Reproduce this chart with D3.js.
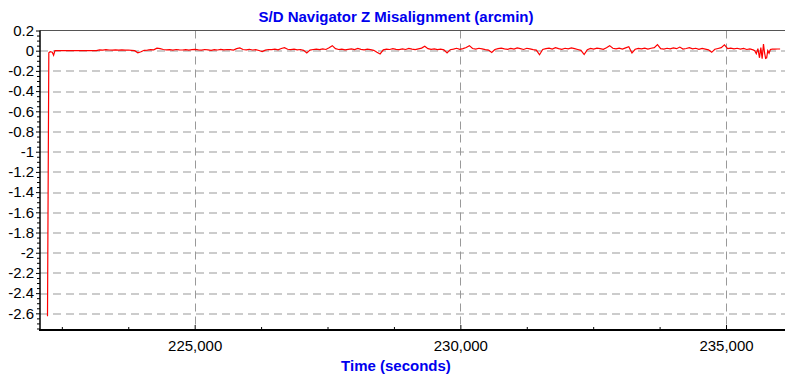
<!DOCTYPE html>
<html>
<head>
<meta charset="utf-8">
<script src="https://cdn.jsdelivr.net/npm/d3@7"></script>
<style>
    body { margin: 0; background: #fff; }
    svg { display: block; font-family: "Liberation Sans", Arial, sans-serif; }
    .grid line { stroke: #999; stroke-dasharray: 8,5; }
    .axis path { display: none; }
    .axis line { stroke: #000; }
    .axis text { font-size: 15px; fill: #000; }
    .ttl { font-size: 15px; font-weight: bold; fill: #0000ee; }
</style>
</head>
<body>
<div id="chart"></div>
<script>
// start-up transient (time, arcmin)
var startTimes  = [222230, 222255, 222280, 222320, 222345, 222370, 223150];
var startValues = [-2.63, -0.02, -0.01, -0.015, -0.045, 0.0, 0.0];

// steady part, one reading every 60 s from 223150
var steadyStart = 223150;
var steadyStep = 60;
var steadyValues = [
    0.005, 0.008, 0.006, 0.01, 0.007, 0.005, 0.009, 0.006, 0.008, 0.005,
    0.007, 0.004, 0.0, -0.02, -0.01, 0.004, 0.006, 0.01, 0.008, 0.025,
    0.02, 0.012, 0.008, 0.01, 0.006, 0.012, 0.009, 0.007, 0.011, 0.005,
    0.01, 0.014, 0.008, 0.006, 0.012, 0.009, 0.004, 0.011, 0.007, 0.013,
    0.008, 0.012, 0.01, 0.006, 0.02, 0.027, 0.012, 0.009, 0.014, 0.007,
    0.011, 0.002, -0.008, 0.006, 0.012, 0.01, 0.015, 0.008, 0.022, 0.03,
    0.014, 0.01, 0.016, 0.008, 0.012, 0.004, -0.022, 0.006, 0.012, 0.015,
    0.01, 0.018, 0.012, 0.03, 0.05, 0.02, 0.012, 0.016, 0.009, 0.014,
    0.018, 0.011, 0.022, 0.013, 0.008, 0.016, 0.01, 0.004, -0.015, -0.032,
    0.008, 0.016, 0.012, 0.02, 0.014, 0.01, 0.018, 0.012, 0.022, 0.015,
    0.01, 0.018, 0.026, 0.045, 0.02, 0.014, 0.018, 0.011, 0.016, 0.008,
    -0.022, 0.01, 0.016, 0.024, 0.014, 0.02, 0.032, 0.05, 0.022, 0.016,
    0.024, 0.018, 0.01, 0.006, -0.018, 0.012, 0.02, 0.026, 0.018, 0.014,
    0.022, 0.016, 0.028, 0.02, 0.012, 0.024, 0.018, 0.01, 0.006, -0.04,
    0.012, 0.02, 0.026, 0.016, 0.03, 0.02, 0.014, 0.024, 0.018, 0.028,
    0.02, 0.012, 0.004, -0.038, 0.01, 0.022, 0.016, 0.026, 0.02, 0.014,
    0.03, 0.05, 0.024, 0.018, 0.026, 0.016, 0.028, 0.04, -0.022, 0.014,
    0.022, 0.018, 0.026, 0.016, 0.024, 0.03, 0.06, 0.02, 0.016, 0.024,
    0.018, 0.028, 0.02, 0.036, 0.016, 0.022, 0.03, 0.018, 0.024, 0.014,
    0.022, 0.016, 0.008, -0.016, 0.014, 0.022, 0.03, 0.058, 0.02, 0.026,
    0.018, 0.024, 0.016, 0.022, 0.012, 0.018, 0.008
];

// wobble at the end of the run
var endTimes  = [235540, 235570, 235600, 235630, 235655, 235680, 235705, 235725, 235745, 235765, 235785, 235810, 235835, 235870, 235920, 235970, 236018];
var endValues = [0.0, -0.03, 0.02, -0.07, 0.03, -0.08, 0.065, -0.02, -0.075, -0.07, 0.0, -0.025, 0.012, 0.015, 0.015, 0.017, 0.017];

var yTicks = [0.2, 0, -0.2, -0.4, -0.6, -0.8, -1, -1.2, -1.4, -1.6, -1.8, -2, -2.2, -2.4, -2.6];
var xTicks = [225000, 230000, 235000];

var chartTitle = "S/D Navigator Z Misalignment (arcmin)";
var xTitle = "Time (seconds)";

function buildSeries() {
    var out = [];
    startTimes.forEach(function (t, i) { out.push({t: t, v: startValues[i]}); });
    steadyValues.forEach(function (v, i) {
        if (i > 0) out.push({t: steadyStart + i * steadyStep, v: v});
    });
    endTimes.forEach(function (t, i) { out.push({t: t, v: endValues[i]}); });
    return out;
}

var width = 787, height = 374;
var margin = {top: 30.5, right: 2, bottom: 44, left: 40};
var c_width = width - margin.left - margin.right;
var c_height = height - margin.top - margin.bottom;

var svg = d3.select("#chart").append("svg")
    .attr("width", width)
    .attr("height", height);

var g = svg.append("g").attr("transform", "translate(" + margin.left + "," + margin.top + ")");

var x = d3.scaleLinear().domain([222089, 236110]).range([0, c_width]);
var y = d3.scaleLinear().domain([-2.765, 0.2]).range([c_height, 0]);

/* GRID */
g.append("g").attr("class", "grid")
    .selectAll("line")
    .data(yTicks.filter(function (d) { return d < 0.2; }))
    .enter().append("line")
        .attr("x1", 0).attr("x2", c_width)
        .attr("y1", function (d) { return Math.round(y(d)) + 0.5; })
        .attr("y2", function (d) { return Math.round(y(d)) + 0.5; });

g.append("g").attr("class", "grid")
    .selectAll("line")
    .data(xTicks)
    .enter().append("line")
        .attr("y1", 0).attr("y2", c_height)
        .attr("x1", function (d) { return Math.round(x(d)) + 0.5; })
        .attr("x2", function (d) { return Math.round(x(d)) + 0.5; });

// top border
g.append("line")
    .attr("x1", 0).attr("x2", c_width)
    .attr("y1", 0).attr("y2", 0)
    .attr("stroke", "#555").attr("stroke-width", 1);

/* AXIS */
var yMinor = d3.range(-2.75, 0.2, 0.05).filter(function (d) {
    return Math.abs(Math.round(d * 5) - d * 5) > 0.01;
});

g.append("g").attr("class", "axis")
    .call(d3.axisLeft(y).tickValues(yMinor).tickSize(3).tickFormat(""));

g.append("g").attr("class", "axis")
    .call(d3.axisLeft(y).tickValues(yTicks).tickSize(4).tickPadding(2)
        .tickFormat(function (d) { return String(+d.toFixed(1)); }));

var xMinor = d3.range(222500, 236110, 1250).filter(function (d) { return d % 5000 != 0; });

g.append("g").attr("class", "axis")
    .attr("transform", "translate(0," + c_height + ")")
    .call(d3.axisBottom(x).tickValues(xMinor).tickSize(-3).tickFormat(""));

g.append("g").attr("class", "axis")
    .attr("transform", "translate(0," + c_height + ")")
    .call(d3.axisBottom(x).tickValues(xTicks).tickSize(-5).tickPadding(10).tickFormat(d3.format(",")));

// axis lines
g.append("line")
    .attr("x1", 0).attr("x2", 0).attr("y1", 0).attr("y2", c_height)
    .attr("stroke", "#000").attr("stroke-width", 1.5);
g.append("line")
    .attr("x1", -1).attr("x2", c_width).attr("y1", c_height).attr("y2", c_height)
    .attr("stroke", "#000").attr("stroke-width", 2);

/* SERIES */
var line = d3.line()
    .x(function (d) { return x(d.t); })
    .y(function (d) { return y(d.v); });

g.append("path")
    .datum(buildSeries())
    .attr("fill", "none")
    .attr("stroke", "#ff0000")
    .attr("stroke-width", 1.2)
    .attr("d", line);

/* TITLES */
svg.append("text")
    .attr("class", "ttl")
    .attr("x", 396).attr("y", 22)
    .attr("text-anchor", "middle")
    .text(chartTitle);

svg.append("text")
    .attr("class", "ttl")
    .attr("x", 396).attr("y", 371)
    .attr("text-anchor", "middle")
    .text(xTitle);
</script>
</body>
</html>
